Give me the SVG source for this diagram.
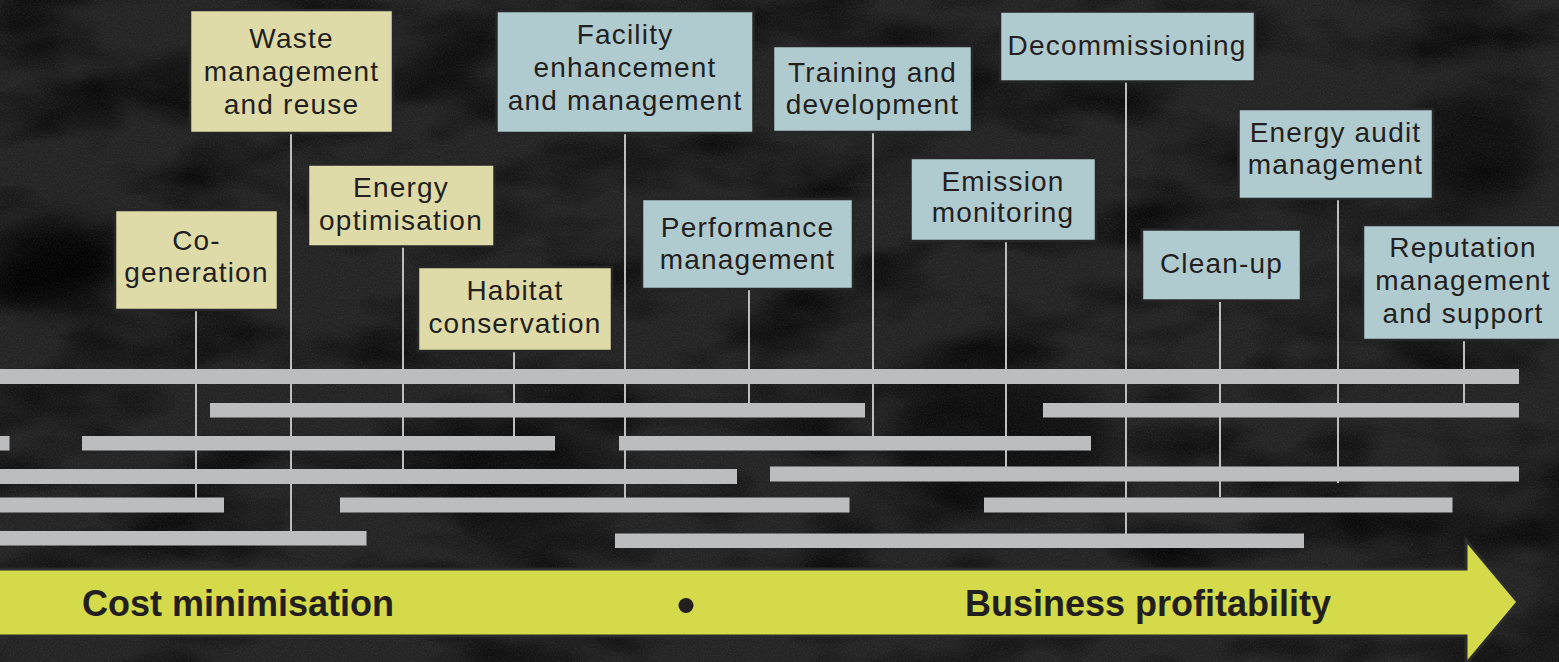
<svg xmlns="http://www.w3.org/2000/svg" width="1559" height="662" viewBox="0 0 1559 662">
  <defs>
    <filter id="grain" x="0" y="0" width="100%" height="100%" filterUnits="userSpaceOnUse">
      <feTurbulence type="fractalNoise" baseFrequency="0.6" numOctaves="2" seed="7"/>
      <feColorMatrix type="matrix" values="0 0 0 0 1  0 0 0 0 1  0 0 0 0 1  0.9 0 0 0 -0.36"/>
    </filter>
    <filter id="blots" x="0" y="0" width="100%" height="100%" filterUnits="userSpaceOnUse">
      <feTurbulence type="fractalNoise" baseFrequency="0.008 0.016" numOctaves="3" seed="11"/>
      <feColorMatrix type="matrix" values="0 0 0 0 0  0 0 0 0 0  0 0 0 0 0  2.2 0 0 0 -0.95"/>
    </filter>
    <filter id="soft" x="-50%" y="-50%" width="200%" height="200%">
      <feGaussianBlur stdDeviation="14"/>
    </filter>
    <style>
      .box { stroke: #262626; stroke-width: 2.5; }
      .k { fill: #dedba9; }
      .b { fill: #b0cbd0; }
      .lbl { font-family: "Liberation Sans", Arial, sans-serif; font-size: 28px; letter-spacing: 1.2px; fill: #231f20; text-anchor: middle; }
      .big { font-family: "Liberation Sans", Arial, sans-serif; font-size: 36px; font-weight: bold; fill: #231f20; }
      .conn line { stroke: #bdbebf; stroke-width: 2; }
      .bars rect { fill: #bcbdbf; }
      .dark { fill: #050505; filter: url(#soft); }
    </style>
  </defs>

  <!-- background -->
  <g id="background">
    <rect x="0" y="0" width="1559" height="662" fill="#242424"/>
    <rect x="0" y="0" width="1559" height="662" filter="url(#blots)" opacity="0.8"/>
    <ellipse class="dark" cx="55" cy="265" rx="60" ry="45" opacity="0.8"/>
    <ellipse class="dark" cx="1090" cy="50" rx="55" ry="25" opacity="0.6"/>
    <ellipse class="dark" cx="1480" cy="150" rx="60" ry="60" opacity="0.5"/>
    <ellipse class="dark" cx="520" cy="480" rx="80" ry="60" opacity="0.5"/>
    <ellipse class="dark" cx="1000" cy="440" rx="110" ry="70" opacity="0.5"/>
    <rect x="0" y="0" width="1559" height="662" filter="url(#grain)" opacity="0.16"/>
  </g>

  <!-- connectors -->
  <g id="connectors" class="conn">
    <line x1="196" y1="311" x2="196" y2="498"/>
    <line x1="291" y1="134" x2="291" y2="531"/>
    <line x1="403" y1="247" x2="403" y2="469"/>
    <line x1="514" y1="352" x2="514" y2="436"/>
    <line x1="625" y1="134" x2="625" y2="499"/>
    <line x1="749" y1="290" x2="749" y2="403"/>
    <line x1="873" y1="133" x2="873" y2="436"/>
    <line x1="1006" y1="242" x2="1006" y2="467"/>
    <line x1="1126" y1="82" x2="1126" y2="534"/>
    <line x1="1220" y1="302" x2="1220" y2="497"/>
    <line x1="1338" y1="200" x2="1338" y2="483"/>
    <line x1="1464" y1="341" x2="1464" y2="403"/>
  </g>

  <!-- timeline bars -->
  <g id="bars" class="bars">
    <rect x="0" y="369" width="1519" height="15"/>
    <rect x="210" y="403" width="655" height="14.5"/>
    <rect x="1043" y="403" width="476" height="14.5"/>
    <rect x="0" y="436" width="9.5" height="14.5"/>
    <rect x="82" y="436" width="473" height="14.5"/>
    <rect x="619" y="436" width="472" height="14.5"/>
    <rect x="0" y="469" width="737" height="15"/>
    <rect x="770" y="466.5" width="749" height="15"/>
    <rect x="0" y="497.5" width="224" height="15"/>
    <rect x="340" y="497.5" width="509.5" height="15"/>
    <rect x="984" y="497.5" width="468.5" height="15"/>
    <rect x="0" y="531" width="366.5" height="14.5"/>
    <rect x="615" y="533.5" width="689" height="14.5"/>
  </g>

  <!-- arrow -->
  <g id="arrow">
    <polygon points="-5,569 1466,569 1466,540 1518,602 1466,664 1466,636 -5,636" fill="#d4da4a" stroke="#2b2b2b" stroke-width="3" stroke-linejoin="miter"/>
    <text class="big" x="82" y="616">Cost minimisation</text>
    <circle cx="686" cy="605.5" r="7.5" fill="#231f20"/>
    <text class="big" x="965" y="616">Business profitability</text>
  </g>

  <!-- cost-side nodes -->
  <g id="waste">
    <rect class="box k" x="190" y="10" width="203" height="123"/>
    <text class="lbl" x="291.5" y="48">Waste</text>
    <text class="lbl" x="291.5" y="81">management</text>
    <text class="lbl" x="291.5" y="114">and reuse</text>
  </g>
  <g id="cogeneration">
    <rect class="box k" x="115" y="210" width="163" height="100"/>
    <text class="lbl" x="196.5" y="250">Co-</text>
    <text class="lbl" x="196.5" y="282">generation</text>
  </g>
  <g id="energy-optimisation">
    <rect class="box k" x="308" y="164.5" width="186.5" height="82"/>
    <text class="lbl" x="401" y="197">Energy</text>
    <text class="lbl" x="401" y="230">optimisation</text>
  </g>
  <g id="habitat">
    <rect class="box k" x="418" y="267" width="194" height="84"/>
    <text class="lbl" x="515" y="300">Habitat</text>
    <text class="lbl" x="515" y="333">conservation</text>
  </g>

  <!-- profitability-side nodes -->
  <g id="facility">
    <rect class="box b" x="496.5" y="11" width="257" height="122"/>
    <text class="lbl" x="625" y="43.5">Facility</text>
    <text class="lbl" x="625" y="77">enhancement</text>
    <text class="lbl" x="625" y="110">and management</text>
  </g>
  <g id="training">
    <rect class="box b" x="773" y="46" width="199" height="86"/>
    <text class="lbl" x="872.5" y="81.5">Training and</text>
    <text class="lbl" x="872.5" y="113.5">development</text>
  </g>
  <g id="performance">
    <rect class="box b" x="642" y="199" width="211" height="90"/>
    <text class="lbl" x="747.5" y="236.5">Performance</text>
    <text class="lbl" x="747.5" y="268.5">management</text>
  </g>
  <g id="emission">
    <rect class="box b" x="910.5" y="158" width="185.5" height="83"/>
    <text class="lbl" x="1003" y="191">Emission</text>
    <text class="lbl" x="1003" y="222">monitoring</text>
  </g>
  <g id="decommissioning">
    <rect class="box b" x="1000" y="11.5" width="255" height="70"/>
    <text class="lbl" x="1127" y="55">Decommissioning</text>
  </g>
  <g id="energy-audit">
    <rect class="box b" x="1238.5" y="109" width="194.5" height="90"/>
    <text class="lbl" x="1335.5" y="142">Energy audit</text>
    <text class="lbl" x="1335.5" y="174">management</text>
  </g>
  <g id="cleanup">
    <rect class="box b" x="1142" y="229.5" width="159" height="71"/>
    <text class="lbl" x="1221.5" y="273">Clean-up</text>
  </g>
  <g id="reputation">
    <rect class="box b" x="1363" y="225" width="200" height="115"/>
    <text class="lbl" x="1463" y="257">Reputation</text>
    <text class="lbl" x="1463" y="289.5">management</text>
    <text class="lbl" x="1463" y="322.5">and support</text>
  </g>
</svg>
